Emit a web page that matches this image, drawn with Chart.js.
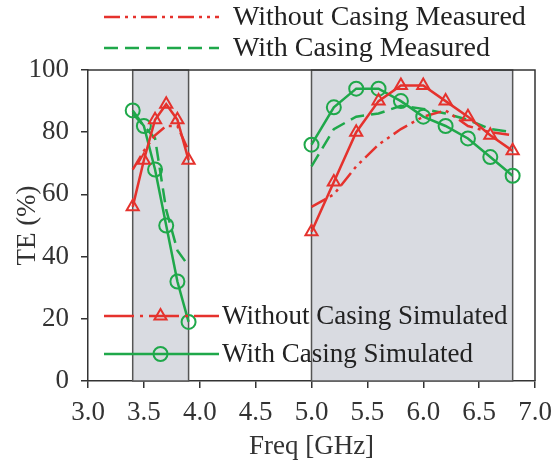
<!DOCTYPE html>
<html>
<head>
    <title>TE vs Freq</title>
    <script src="https://cdn.jsdelivr.net/npm/chart.js"></script>
    <style>body { margin: 0; background: #fff; }</style>
</head>
<body>
<div style="width:554px; height:463px;">
    <canvas id="myChart" width="554" height="463"></canvas>
</div>
<script>
    // frequencies (GHz) of the two measured bands
    const freqLow = [3.4, 3.5, 3.6, 3.7, 3.8, 3.9];
    const freqHigh = [5.0, 5.2, 5.4, 5.6, 5.8, 6.0, 6.2, 6.4, 6.6, 6.8];

    // TE (%) values
    const woMeasLow = [68, 74, 79, 82, 82, 74];
    const woMeasHigh = [56, 60, 69, 76, 81, 85, 87, 82, 80, 79];
    const wMeasLow = [86, 82, 78, 55, 42, 37];
    const wMeasHigh = [69, 81, 85, 86, 88.5, 87.5, 86, 84, 81, 80];
    const woSimLow = [56, 71, 84, 89, 84, 71];
    const woSimHigh = [48, 64, 80, 90, 95, 95, 90, 85, 79, 74];
    const wSimLow = [87, 82, 68, 50, 32, 19];
    const wSimHigh = [76, 88, 94, 94, 90, 85, 82, 78, 72, 66];

    const bands = [[3.4, 3.9], [5.0, 6.8]];
    const xTicks = [3.0, 3.5, 4.0, 4.5, 5.0, 5.5, 6.0, 6.5, 7.0];
    const yTicks = [0, 20, 40, 60, 80, 100];

    const RED = '#e5322d';
    const GREEN = '#1fa84a';
    const FONT = '"Liberation Serif", "Times New Roman", serif';

    // join the two bands with a null so the line breaks between them
    function pts(low, high) {
        return [
            ...freqLow.map((x, i) => ({x, y: low[i]})),
            {x: 4.45, y: null},
            ...freqHigh.map((x, i) => ({x, y: high[i]}))
        ];
    }

    const bandPlugin = {
        id: 'bands',
        beforeDatasetsDraw(chart) {
            const {ctx, chartArea: a, scales: {x}} = chart;
            ctx.save();
            bands.forEach(([b0, b1]) => {
                const x0 = x.getPixelForValue(b0), x1 = x.getPixelForValue(b1);
                ctx.fillStyle = '#d9dbe1';
                ctx.fillRect(x0, a.top, x1 - x0, a.bottom - a.top);
                ctx.strokeStyle = '#555';
                ctx.lineWidth = 1.5;
                ctx.strokeRect(x0, a.top, x1 - x0, a.bottom - a.top);
            });
            ctx.restore();
        },
        afterDraw(chart) {
            const {ctx, chartArea: a} = chart;
            ctx.save();
            // top and right frame
            ctx.strokeStyle = '#333';
            ctx.lineWidth = 1.5;
            ctx.beginPath();
            ctx.moveTo(a.left, a.top);
            ctx.lineTo(a.right, a.top);
            ctx.lineTo(a.right, a.bottom);
            ctx.stroke();

            const items = [
                {text: 'Without Casing Measured', color: RED, dash: [16, 5, 3, 5, 3, 5], marker: null, x0: 104, x1: 219, y: 17, tx: 233, size: 28},
                {text: 'With Casing Measured', color: GREEN, dash: [14, 7], marker: null, x0: 104, x1: 219, y: 48, tx: 233, size: 28},
                {text: 'Without Casing Simulated', color: RED, dash: [30, 6, 3, 6], marker: 'triangle', x0: 104, x1: 219, y: 316, tx: 222, size: 27},
                {text: 'With Casing Simulated', color: GREEN, dash: [], marker: 'circle', x0: 104, x1: 219, y: 354, tx: 222, size: 27}
            ];
            items.forEach(it => {
                ctx.strokeStyle = it.color;
                ctx.lineWidth = 2.5;
                ctx.setLineDash(it.dash);
                ctx.beginPath();
                ctx.moveTo(it.x0, it.y);
                ctx.lineTo(it.x1, it.y);
                ctx.stroke();
                ctx.setLineDash([]);
                if (it.marker) {
                    ctx.fillStyle = 'rgba(0,0,0,0)';
                    ctx.lineWidth = 2;
                    Chart.helpers.drawPoint(ctx, {pointStyle: it.marker, radius: 7, borderWidth: 2}, (it.x0 + it.x1) / 2 - 1, it.y);
                }
                ctx.fillStyle = '#222';
                ctx.font = it.size + 'px ' + FONT;
                ctx.textBaseline = 'middle';
                ctx.textAlign = 'left';
                ctx.fillText(it.text, it.tx, it.y + 1);
            });
            ctx.restore();
        }
    };

    const ctx = document.getElementById('myChart').getContext('2d');
    new Chart(ctx, {
        type: 'line',
        data: {
            datasets: [
                {
                    label: 'Without Casing Simulated',
                    data: pts(woSimLow, woSimHigh),
                    borderColor: RED, borderWidth: 2.5,
                    pointStyle: 'triangle', pointRadius: 7, pointBorderWidth: 2,
                    pointBorderColor: RED, pointBackgroundColor: 'rgba(0,0,0,0)'
                },
                {
                    label: 'With Casing Simulated',
                    data: pts(wSimLow, wSimHigh),
                    borderColor: GREEN, borderWidth: 2.5,
                    pointStyle: 'circle', pointRadius: 7, pointBorderWidth: 2,
                    pointBorderColor: GREEN, pointBackgroundColor: 'rgba(0,0,0,0)'
                },
                {
                    label: 'Without Casing Measured',
                    data: pts(woMeasLow, woMeasHigh),
                    borderColor: RED, borderWidth: 2.5, borderDash: [16, 5, 3, 5, 3, 5],
                    pointRadius: 0
                },
                {
                    label: 'With Casing Measured',
                    data: pts(wMeasLow, wMeasHigh),
                    borderColor: GREEN, borderWidth: 2.5, borderDash: [14, 7],
                    pointRadius: 0
                }
            ]
        },
        options: {
            responsive: false,
            animation: false,
            spanGaps: false,
            layout: {padding: {top: 70, right: 19, left: 0, bottom: 0}},
            plugins: {legend: {display: false}, tooltip: {enabled: false}},
            scales: {
                x: {
                    type: 'linear', min: 3, max: 7,
                    afterBuildTicks: s => { s.ticks = xTicks.map(v => ({value: v})); },
                    afterFit: s => { s.height = 82; s.paddingLeft = 0; s.paddingRight = 0; },
                    grid: {drawOnChartArea: false, drawTicks: true, tickLength: 7, color: '#333', lineWidth: 1.5},
                    border: {color: '#333', width: 1.5},
                    ticks: {callback: v => v.toFixed(1), color: '#333', padding: 9, maxRotation: 0, font: {family: FONT, size: 27}},
                    title: {display: true, text: 'Freq [GHz]', color: '#333', padding: {top: 0, bottom: 0}, font: {family: FONT, size: 27}}
                },
                y: {
                    min: 0, max: 100,
                    afterBuildTicks: s => { s.ticks = yTicks.map(v => ({value: v})); },
                    afterFit: s => { s.width = 88; },
                    grid: {drawOnChartArea: false, drawTicks: true, tickLength: 7, color: '#333', lineWidth: 1.5},
                    border: {color: '#333', width: 1.5},
                    ticks: {color: '#333', padding: 12, font: {family: FONT, size: 27}},
                    title: {display: true, text: 'TE (%)', color: '#333', padding: {top: 12, bottom: 0}, font: {family: FONT, size: 27}}
                }
            }
        },
        plugins: [bandPlugin]
    });
</script>
</body>
</html>
